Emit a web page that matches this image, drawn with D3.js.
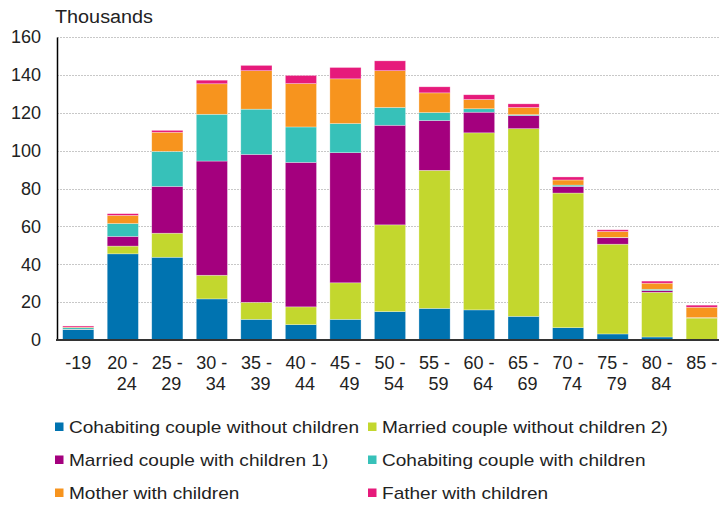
<!DOCTYPE html>
<html>
<head>
<meta charset="utf-8">
<script src="https://cdn.jsdelivr.net/npm/d3@7"></script>
<style>
  body { margin: 0; background: #fff; }
  svg { display: block; font-family: "Liberation Sans", Arial, sans-serif; }
</style>
</head>
<body>
<script>
// Families by age group, stacked by family type (thousands)
var ageGroups = ["-19", "20 - 24", "25 - 29", "30 - 34", "35 - 39", "40 - 44", "45 - 49", "50 - 54",
  "55 - 59", "60 - 64", "65 - 69", "70 - 74", "75 - 79", "80 - 84", "85 -"];
var seriesNames = ["Cohabiting couple without children", "Married couple without children 2)",
  "Married couple with children 1)", "Cohabiting couple with children",
  "Mother with children", "Father with children"];
var seriesColors = ["#0073b0", "#c3d72e", "#a4007e", "#37c1b9", "#f7941e", "#e61a7b"];

var cohabNoKids   = [5.5, 45.5, 43.7, 21.7, 10.9, 8.1, 10.9, 15.0, 16.7, 15.9, 12.5, 6.5, 3.2, 1.6, 0.3];
var marriedNoKids = [0.1, 4.1, 12.7, 12.5, 9.0, 9.4, 19.3, 45.8, 72.9, 93.5, 99.1, 71.1, 47.4, 23.6, 11.3];
var marriedKids   = [0.1, 5.1, 24.7, 60.3, 78.1, 76.3, 68.7, 52.6, 26.3, 10.9, 6.9, 3.5, 3.4, 0.9, 0.1];
var cohabKids     = [0.8, 6.8, 18.5, 24.7, 23.9, 18.7, 15.4, 9.4, 4.2, 1.8, 0.5, 0.7, 0.2, 0.7, 0.1];
var mothers       = [0.3, 4.3, 10.1, 16.1, 20.3, 22.9, 23.6, 19.4, 10.4, 4.9, 3.8, 2.7, 3.1, 3.2, 5.5];
var fathers       = [0.6, 0.9, 1.0, 1.9, 2.8, 4.3, 6.0, 5.2, 3.2, 2.5, 1.9, 1.6, 0.9, 1.1, 1.1];
var yTicks = [0, 20, 40, 60, 80, 100, 120, 140, 160];

var allSeries = [cohabNoKids, marriedNoKids, marriedKids, cohabKids, mothers, fathers];

// build rows for d3.stack
var rows = ageGroups.map(function(g, i) {
  var r = { group: g };
  seriesNames.forEach(function(s, k) { r[s] = allSeries[k][i]; });
  return r;
});
var stacked = d3.stack().keys(seriesNames)(rows);

var width = 719, height = 506;
var svg = d3.select("body").append("svg").attr("width", width).attr("height", height);

var x = d3.scaleBand().domain(ageGroups).range([56, 724]).paddingInner(0.3).paddingOuter(0.15);
var y = d3.scaleLinear().domain([0, 160]).range([340, 37]);

// stretch text a bit wider, like the original renderer
function widen(sel, k) {
  sel.each(function() {
    var w = this.getComputedTextLength();
    d3.select(this).attr("textLength", w * k).attr("lengthAdjust", "spacingAndGlyphs");
  });
}

// gridlines
svg.append("g").selectAll("line").data(yTicks.slice(1)).enter().append("line")
  .attr("x1", 57).attr("x2", width)
  .attr("y1", function(d) { return Math.round(y(d)) + 0.5; })
  .attr("y2", function(d) { return Math.round(y(d)) + 0.5; })
  .attr("stroke", "#c8c8c8").attr("stroke-dasharray", "2,1");

// bars
svg.append("g").selectAll("g").data(stacked).enter().append("g")
  .attr("fill", function(d, i) { return seriesColors[i]; })
  .selectAll("rect").data(function(d) { return d; }).enter().append("rect")
  .attr("x", function(d) { return x(d.data.group); })
  .attr("width", x.bandwidth())
  .attr("y", function(d) { return y(d[1]); })
  .attr("height", function(d) { return Math.max(0, y(d[0]) - y(d[1])); })
  .attr("stroke", "#fff").attr("stroke-opacity", 0.5).attr("stroke-width", 0.6);

// y axis
var yAxis = svg.append("g").attr("transform", "translate(57,0)")
  .call(d3.axisLeft(y).tickValues(yTicks).tickSize(0).tickPadding(16));
yAxis.select(".domain").attr("stroke", "#000").attr("stroke-width", 1.5);
yAxis.selectAll("text").attr("font-size", 18).attr("fill", "#222")
  .attr("font-family", "Liberation Sans, Arial, sans-serif");

// baseline
svg.append("line").attr("x1", 56).attr("x2", width).attr("y1", 340).attr("y2", 340)
  .attr("stroke", "#333").attr("stroke-width", 2);

// x labels (two lines)
var xl = svg.append("g").selectAll("text").data(ageGroups).enter().append("text")
  .attr("text-anchor", "middle").attr("font-size", 18).attr("fill", "#222")
  .attr("x", function(d) { return x(d) + x.bandwidth() / 2; })
  .attr("y", 369);
xl.each(function(d) {
  var parts = d.split(" - ");
  var t = d3.select(this);
  if (parts.length == 2) {
    t.append("tspan").text(parts[0] + " -");
    if (parts[1] != "") {
      t.append("tspan").attr("x", +t.attr("x") + 4).attr("dy", 21).text(parts[1]);
    }
  } else {
    t.text(d);
  }
});

// title
svg.append("text").attr("x", 55).attr("y", 23).attr("font-size", 18).attr("fill", "#222")
  .text("Thousands").call(widen, 1.1);

// legend
var legend = svg.append("g").selectAll("g").data(seriesNames).enter().append("g")
  .attr("transform", function(d, i) {
    return "translate(" + (i % 2 == 0 ? 55 : 368) + "," + (427 + Math.floor(i / 2) * 33) + ")";
  });
legend.append("rect").attr("x", 0).attr("y", -4.5).attr("width", 8.5).attr("height", 8.5)
  .attr("fill", function(d, i) { return seriesColors[i]; });
legend.append("text").attr("x", 14).attr("y", 6).attr("font-size", 17).attr("fill", "#222")
  .text(function(d) { return d; }).call(widen, 1.12);
</script>
</body>
</html>
